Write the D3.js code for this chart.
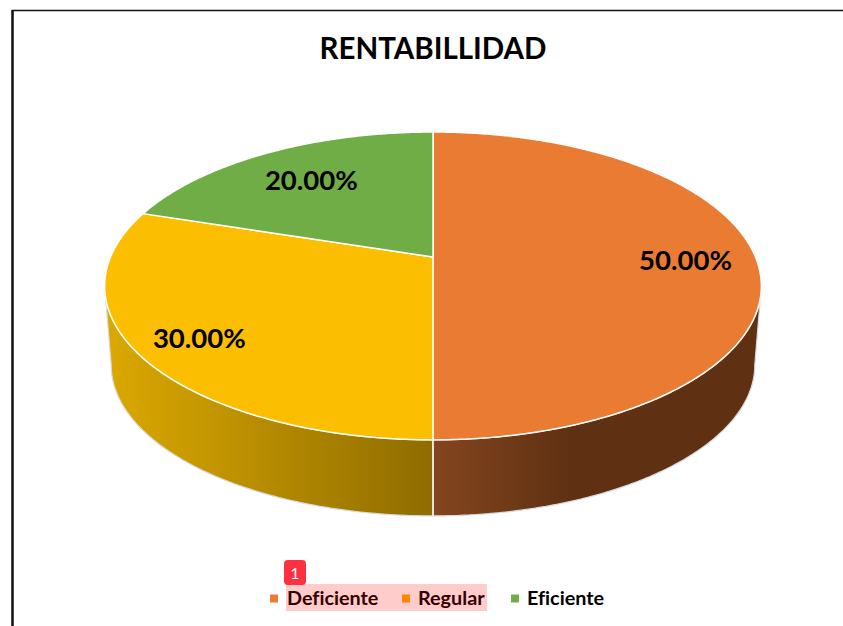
<!DOCTYPE html>
<html>
<head>
<meta charset="utf-8">
<script src="https://cdn.jsdelivr.net/npm/d3@7"></script>
<style>
  html, body { margin: 0; background: #fff; }
  svg { display: block; }
  text { font-family: Lato, "Open Sans", sans-serif; font-weight: 700; fill: #000; font-variant-ligatures: none; }
</style>
</head>
<body>
<svg width="843" height="626"></svg>
<script>
// Data
const categories = ["Deficiente", "Regular", "Eficiente"];
const values = [50, 30, 20];
const colors = ["#EA7B33", "#FBBE00", "#70AD47"];
const chartTitle = "RENTABILLIDAD";

const svg = d3.select("svg");
const cx = 433, cy = 257;

// Perspective of the tilted disc: k = how fast things grow towards the viewer
const k = 0.188;
const scaleX = d3.scaleLinear().domain([-1, 1]).range([cx - 322.5, cx + 322.5]);
const scaleY = d3.scaleLinear().domain([-1, 1]).range([cy - 148.5, cy + 148.5]);

// floor of the pie is a bit narrower and lower
const floorScale = 0.98, floorDrop = 84.8;

function project(angle, r = 1) {
    const x = r * Math.sin(angle), y = -r * Math.cos(angle);
    const w = 1 - k * y;
    return [scaleX(x / w), scaleY(y / w)];
}
function projectFloor(angle) {
    const p = project(angle);
    return [cx + (p[0] - cx) * floorScale, p[1] * floorScale + floorDrop];
}
function sample(a0, a1) {
    const n = Math.max(2, Math.ceil(Math.abs(a1 - a0) / 0.01));
    return d3.range(n + 1).map(i => a0 + (a1 - a0) * i / n);
}

const line = d3.line();
const pie = d3.pie().sort(null).value(d => d);
const slices = pie(values);

// Frame
svg.append("path")
    .attr("d", "M843,10.5H12.5V626")
    .attr("fill", "none").attr("stroke", "#111").attr("stroke-width", 1.4);
svg.append("line")
    .attr("x1", 12.5).attr("x2", 12.5).attr("y1", 10).attr("y2", 626)
    .attr("stroke", "#111").attr("stroke-width", 2.4);

// Wall gradients
const defs = svg.append("defs");
function wallGradient(id, x1, x2, stops) {
    const g = defs.append("linearGradient").attr("id", id)
        .attr("gradientUnits", "userSpaceOnUse")
        .attr("x1", x1).attr("x2", x2).attr("y1", 0).attr("y2", 0);
    stops.forEach(s => g.append("stop").attr("offset", s[0]).attr("stop-color", s[1]));
}
wallGradient("wall0", 433, 760, [[0, "#84451F"], [0.42, "#5F3112"], [1, "#5F3112"]]);
wallGradient("wall1", 105, 433, [[0, "#DCA900"], [1, "#8F6C00"]]);

// Visible part of the wall: from the left and right silhouette round the front
const rightEdge = Math.acos(-k), leftEdge = 2 * Math.PI - rightEdge;
slices.forEach((s, i) => {
    const a0 = Math.max(s.startAngle, rightEdge), a1 = Math.min(s.endAngle, leftEdge);
    if (a1 <= a0) return;
    const top = sample(a0, a1).map(a => project(a));
    const floor = sample(a1, a0).map(a => projectFloor(a));
    svg.append("path")
        .attr("d", line(top.concat(floor)) + "Z")
        .attr("fill", `url(#wall${i})`)
        .attr("stroke", "#d9d9d9")
        .attr("stroke-width", 1.2);
});
// divider on the wall
svg.append("line")
    .attr("x1", project(Math.PI)[0]).attr("y1", project(Math.PI)[1])
    .attr("x2", projectFloor(Math.PI)[0]).attr("y2", projectFloor(Math.PI)[1])
    .attr("stroke", "#f2f2f2").attr("stroke-width", 1.5);

// Top of the pie
slices.forEach((s, i) => {
    const rim = sample(s.startAngle, s.endAngle).map(a => project(a));
    svg.append("path")
        .attr("d", line([project(0, 0)].concat(rim)) + "Z")
        .attr("fill", colors[i])
        .attr("stroke", "#fff")
        .attr("stroke-width", 1.5)
        .attr("stroke-linejoin", "round");
});

// Data labels
const labelR = 0.783;
const labelShift = [[0, 3], [-10, 7], [11, 7]];
const fmt = d3.format(".2f");
slices.forEach((s, i) => {
    const p = project((s.startAngle + s.endAngle) / 2, labelR);
    svg.append("text")
        .attr("x", p[0] + labelShift[i][0])
        .attr("y", p[1] + labelShift[i][1])
        .attr("dy", "0.35em")
        .attr("text-anchor", "middle")
        .style("font-size", "27.5px")
        .text(fmt(s.data) + "%");
});

// Title
svg.append("text")
    .attr("x", cx).attr("y", 49).attr("dy", "0.35em")
    .attr("text-anchor", "middle")
    .style("font-size", "29.5px")
    .text(chartTitle);

// Legend
const legendX = [270, 402, 511];
const legendTextX = [287, 418, 527];
categories.forEach((c, i) => {
    svg.append("rect")
        .attr("x", legendX[i]).attr("y", 594.5)
        .attr("width", 8).attr("height", 8)
        .attr("fill", i === 1 ? "#FFA500" : colors[i]);
    svg.append("text")
        .attr("x", legendTextX[i]).attr("y", 598.5).attr("dy", "0.35em")
        .style("font-size", "19.8px")
        .text(c);
});

// Highlight and badge over the legend
svg.append("rect")
    .attr("x", 286).attr("y", 584).attr("width", 201).attr("height", 27)
    .attr("fill", "#ff0000").attr("fill-opacity", 0.2);
svg.append("rect")
    .attr("x", 284).attr("y", 560).attr("width", 22).attr("height", 25).attr("rx", 4)
    .attr("fill", "#ff3040");
svg.append("text")
    .attr("x", 295).attr("y", 573).attr("dy", "0.35em")
    .attr("text-anchor", "middle")
    .style("font-size", "16px").style("font-weight", 400).style("fill", "#fff")
    .text("1");
</script>
</body>
</html>
